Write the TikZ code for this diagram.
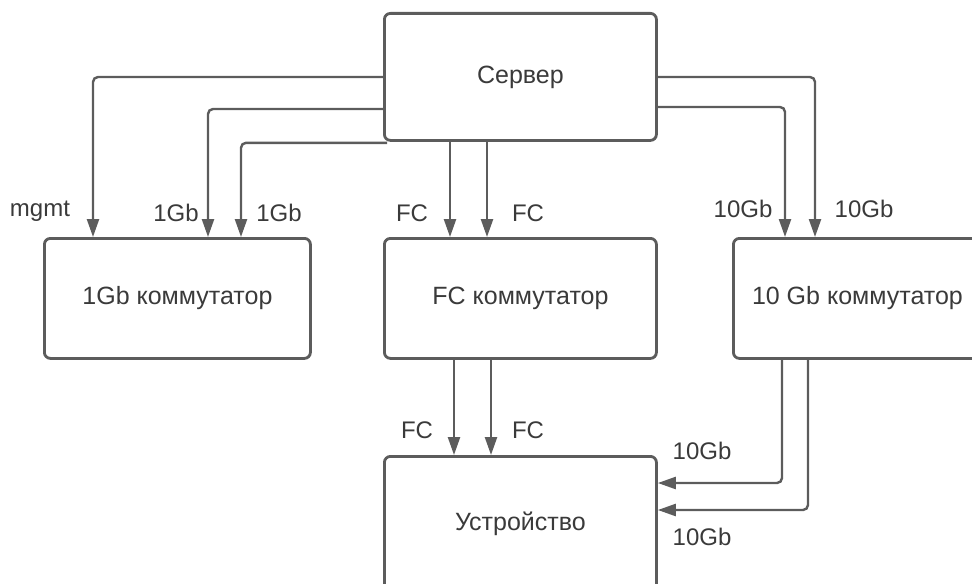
\documentclass[tikz,border=0pt]{standalone}
\usepackage{fontspec}
\setmainfont{Liberation Sans}
\usetikzlibrary{arrows.meta, calc}
\definecolor{linegray}{RGB}{92,92,92}
\definecolor{textgray}{RGB}{58,58,58}
\tikzset{
  devbox/.style={rectangle, rounded corners=3pt, draw=linegray, line width=1.4pt,
    anchor=north west, text=textgray, font=\fontsize{12.5}{15}\selectfont},
  link/.style={-{Triangle[length=9pt, width=6pt]}, line width=1.2pt,
    draw=linegray, rounded corners=2.5pt},
  lbl/.style={text=textgray, font=\fontsize{12}{14}\selectfont, inner sep=0pt},
}
\begin{document}
\begin{tikzpicture}[x=0.5pt, y=-0.5pt]
  \clip (0,0) rectangle (972,583);
  \useasboundingbox (0,0) rectangle (972,583);

  % Boxes
  \node[devbox, minimum width=136pt, minimum height=63.5pt] (srv) at (383,12) {Сервер};
  \node[devbox, minimum width=133pt, minimum height=60pt] (sw1g) at (43,237) {1Gb коммутатор};
  \node[devbox, minimum width=136pt, minimum height=60pt] (swfc) at (383,237) {FC коммутатор};
  \node[devbox, minimum width=124pt, minimum height=60pt] (sw10g) at (732,237) {10 Gb коммутатор};
  \node[devbox, minimum width=136pt, minimum height=67.5pt] (dev) at (383,455) {Устройство};

  % Server -> 1Gb switch
  \draw[link] ($(srv.north west)+(0,65)$) -| ($(sw1g.north west)+(50,0)$);
  \draw[link] ($(srv.north west)+(0,97)$) -| ($(sw1g.north west)+(165,0)$);
  \draw[link] ($(srv.south west)+(4,1)$) -| ($(sw1g.north west)+(198,0)$);

  % Server -> FC switch
  \draw[link] ($(srv.south west)+(67,0)$) -- ($(swfc.north west)+(67,0)$);
  \draw[link] ($(srv.south west)+(104,0)$) -- ($(swfc.north west)+(104,0)$);

  % Server -> 10Gb switch
  \draw[link] ($(srv.north east)+(0,65)$) -| ($(sw10g.north west)+(83,0)$);
  \draw[link] ($(srv.north east)+(0,95)$) -| ($(sw10g.north west)+(53,0)$);

  % FC switch -> device
  \draw[link] ($(swfc.south west)+(71,0)$) -- ($(dev.north west)+(71,0)$);
  \draw[link] ($(swfc.south west)+(108,0)$) -- ($(dev.north west)+(108,0)$);

  % 10Gb switch -> device
  \draw[link] ($(sw10g.south west)+(50,0)$) |- ($(dev.north east)+(0,28)$);
  \draw[link] ($(sw10g.south west)+(76,0)$) |- ($(dev.north east)+(0,55)$);

  % Labels
  \node[lbl] (lmgmt) at (40,211) {mgmt};
  \node[lbl] (l1ga) at (176,213) {1Gb};
  \node[lbl] (l1gb) at (279,213) {1Gb};
  \node[lbl] (lfca) at (412,213) {FC};
  \node[lbl] (lfcb) at (528,213) {FC};
  \node[lbl] (l10ga) at (743,209) {10Gb};
  \node[lbl] (l10gb) at (864,209) {10Gb};
  \node[lbl] (lfcc) at (417,430) {FC};
  \node[lbl] (lfcd) at (528,430) {FC};
  \node[lbl] (l10gc) at (702,451) {10Gb};
  \node[lbl] (l10gd) at (702,537) {10Gb};
\end{tikzpicture}
\end{document}
